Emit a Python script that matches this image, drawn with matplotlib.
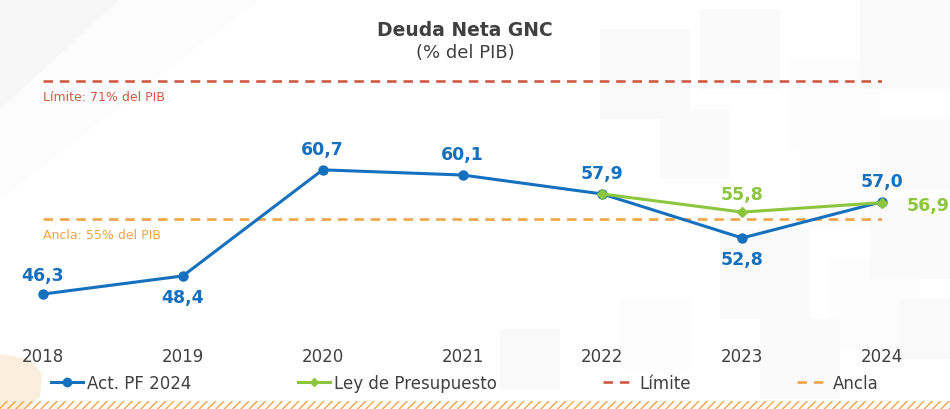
import matplotlib
matplotlib.use("Agg")
import matplotlib.pyplot as plt
from matplotlib.lines import Line2D
from matplotlib.patches import Rectangle, Polygon

years = ["2018", "2019", "2020", "2021", "2022", "2023", "2024"]
act_pf = [46.3, 48.4, 60.7, 60.1, 57.9, 52.8, 57.0]
ley_years = ["2022", "2023", "2024"]
ley_pres = [57.9, 55.8, 56.9]
limite = 71.0
ancla = 55.0
labels_act = ["46,3", "48,4", "60,7", "60,1", "57,9", "52,8", "57,0"]
labels_ley = ["55,8", "56,9"]

BLUE = "#1570BE"
GREEN = "#8CC63F"
RED = "#CF5A44"
ORANGE = "#F0A446"
DARK = "#404040"

plt.rcParams['font.family'] = ['DejaVu Sans']

fig = plt.figure(figsize=(9.5, 4.1), dpi=100)
fig.patch.set_facecolor("white")

# decorative faint background squares
bg = fig.add_axes([0, 0, 1, 1], zorder=-5)
bg.set_xlim(0, 950); bg.set_ylim(410, 0); bg.axis("off")
squares = [(600, 30, 90), (700, 10, 80), (790, 60, 90), (860, 0, 90), (660, 110, 70),
           (800, 150, 80), (880, 120, 70), (720, 230, 90), (830, 260, 90), (900, 300, 60),
           (760, 320, 80), (620, 300, 70), (500, 330, 60), (870, 200, 80)]
for i, (x, y, s) in enumerate(squares):
    g = 0.975 + 0.007 * (i % 3)
    bg.add_patch(Rectangle((x, y), s, s, facecolor=(g, g, g), edgecolor="none"))
bg.add_patch(Polygon([(0, 0), (120, 0), (0, 110)], closed=True, facecolor="#F7F7F7", edgecolor="none"))
bg.add_patch(Polygon([(0, 0), (260, 0), (0, 200)], closed=True, facecolor="#FCFCFC", edgecolor="none", zorder=-1))
# faint orange gear-ish shape bottom-left
bg.add_patch(Polygon([(0, 355), (30, 360), (42, 375), (40, 398), (25, 410), (0, 410)], closed=True,
                     facecolor="#FCEEDD", edgecolor="none"))
# orange hatched stripe at bottom
stripe = Rectangle((0, 402), 950, 10, facecolor="none", edgecolor=ORANGE, hatch="////", linewidth=0)
bg.add_patch(stripe)

ax = fig.add_axes([43 / 950, 1 - 340 / 410, 839 / 950, 280 / 410])
ax.set_facecolor("none")
x = list(range(len(years)))
xl = [years.index(y) for y in ley_years]

ax.set_xlim(0, len(years) - 1)
ax.set_ylim(41.09, 73.55)

ax.axhline(limite, color=RED, lw=1.9, ls=(0, (3.6, 2.6)), zorder=1)
ax.axhline(ancla, color=ORANGE, lw=1.9, ls=(0, (3.6, 2.6)), zorder=1)

ax.plot(x, act_pf, color=BLUE, lw=2.2, marker="o", ms=6.5, clip_on=False, zorder=3)
ax.plot(xl, ley_pres, color=GREEN, lw=2.2, marker="D", ms=5, clip_on=False, zorder=4)

ax.text(0, limite - 1.0, "Límite: 71% del PIB", color=RED, fontsize=9, ha="left", va="top")
ax.text(0, ancla - 1.0, "Ancla: 55% del PIB", color=ORANGE, fontsize=9, ha="left", va="top")

lab_kw = dict(fontsize=12.5, fontweight="bold", ha="center")
offs = [(0, 1.2, "bottom"), (0, -1.35, "top"), (0, 1.35, "bottom"), (0, 1.35, "bottom"),
        (0, 1.35, "bottom"), (0, -1.35, "top"), (0, 1.35, "bottom")]
for i, (v, lab) in enumerate(zip(act_pf, labels_act)):
    dx, dy, va = offs[i]
    ax.text(x[i] + dx, v + dy, lab, color=BLUE, va=va, **lab_kw)
ax.text(xl[1], ley_pres[1] + 1.0, labels_ley[0], color=GREEN, va="bottom", **lab_kw)
ax.text(xl[2] + 0.33, ley_pres[2] - 0.3, labels_ley[1], color=GREEN, va="center", **lab_kw)

ax.set_xticks(x)
ax.set_xticklabels(years, fontsize=12, color=DARK)
ax.tick_params(axis="x", length=0, pad=6)
ax.set_yticks([])
for s in ax.spines.values():
    s.set_visible(False)

fig.text(465 / 950, 1 - 30 / 410, "Deuda Neta GNC", fontsize=13.5, fontweight="bold", color=DARK,
         ha="center", va="center")
fig.text(465 / 950, 1 - 53 / 410, "(% del PIB)", fontsize=13, color=DARK, ha="center", va="center")

handles = [
    Line2D([], [], color=BLUE, lw=2.2, marker="o", ms=6),
    Line2D([], [], color=GREEN, lw=2.2, marker="D", ms=4.5),
    Line2D([], [], color=RED, lw=1.9, ls=(0, (3.6, 2.6))),
    Line2D([], [], color=ORANGE, lw=1.9, ls=(0, (3.6, 2.6))),
]
names = ["Act. PF 2024", "Ley de Presupuesto", "Límite", "Ancla"]
leg = fig.legend(handles, names, loc="center left", bbox_to_anchor=(51 / 950, 1 - 384 / 410),
                 ncol=4, frameon=False, fontsize=12, handlelength=1.9, handletextpad=0.25,
                 columnspacing=6.4, borderaxespad=0, borderpad=0)
for t in leg.get_texts():
    t.set_color(DARK)

fig.savefig("out.png", dpi=100, facecolor="white")
